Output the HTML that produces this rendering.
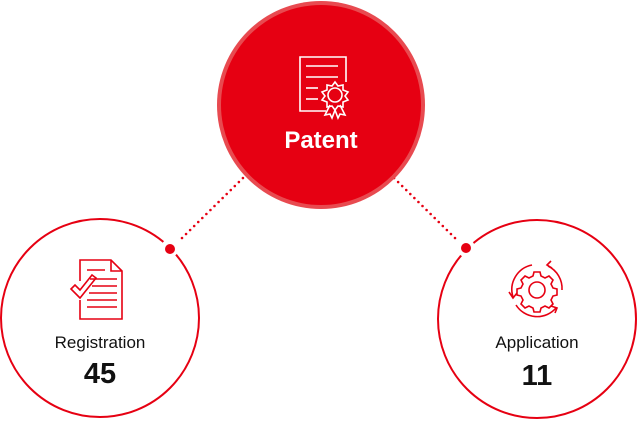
<!DOCTYPE html>
<html><head><style>
html,body{margin:0;padding:0;background:#fff;}
body{width:637px;height:419px;overflow:hidden;font-family:"Liberation Sans",sans-serif;}
</style></head><body>
<svg width="637" height="419" viewBox="0 0 637 419" xmlns="http://www.w3.org/2000/svg">
<!-- dotted connectors -->
<line x1="182" y1="238" x2="246" y2="175" stroke="#e60012" stroke-width="2.6" stroke-linecap="round" stroke-dasharray="0 5.7"/>
<line x1="455" y1="238" x2="391" y2="175" stroke="#e60012" stroke-width="2.6" stroke-linecap="round" stroke-dasharray="0 5.7"/>
<!-- small circles -->
<circle cx="100" cy="318" r="99" fill="none" stroke="#e60012" stroke-width="2"/>
<circle cx="537" cy="319" r="99" fill="none" stroke="#e60012" stroke-width="2"/>
<circle cx="170" cy="248" r="9" fill="#fff"/>
<circle cx="466" cy="248" r="9" fill="#fff"/>
<circle cx="170" cy="249" r="5" fill="#e60012"/>
<circle cx="466" cy="248" r="5" fill="#e60012"/>
<!-- big circle -->
<circle cx="321" cy="105" r="104" fill="#e84a50"/>
<circle cx="321" cy="105" r="100" fill="#e60012"/>
<!-- certificate icon -->
<g fill="none" stroke="#fff" stroke-width="1.6">
<path d="M326 111 H300 V57 H346 V82"/>
<line x1="306" y1="66" x2="338" y2="66"/><line x1="306" y1="77" x2="338" y2="77"/>
<line x1="306" y1="88" x2="318" y2="88"/><line x1="306" y1="99" x2="318" y2="99"/>
<circle cx="335" cy="95" r="7"/>
<path d="M335 82 l3 4 5 -1 0 5 5 2 -3 4 3 4 -5 2 0 5 -5 -1 -3 4 -3 -4 -5 1 0 -5 -5 -2 3 -4 -3 -4 5 -2 0 -5 5 1z"/>
<path d="M330 105 l-5 10 5 -1 2 4 3 -8 M340 105 l5 10 -5 -1 -2 4 -3 -8"/>
</g>
<text x="321" y="148" text-anchor="middle" fill="#fff" font-size="24" font-weight="bold">Patent</text>
<!-- registration icon -->
<g fill="none" stroke="#e60012" stroke-width="1.6">
<path d="M80 281 V260 H111 L122 271 V319 H80 V300"/>
<path d="M111 260 V271 H122"/>
<line x1="87" y1="270" x2="105" y2="270"/>
<line x1="90" y1="279" x2="117" y2="279"/><line x1="92" y1="286" x2="117" y2="286"/>
<line x1="89" y1="293" x2="117" y2="293"/><line x1="87" y1="300" x2="117" y2="300"/>
<line x1="87" y1="307" x2="117" y2="307"/>
<path d="M71 289 l4 -4 5 5 12 -15 4 3 -16 20z"/>
</g>
<text x="100" y="348" text-anchor="middle" fill="#111" font-size="17">Registration</text>
<text x="100" y="383" text-anchor="middle" fill="#111" font-size="29" font-weight="bold">45</text>
<!-- application gear icon -->
<g fill="none" stroke="#e60012" stroke-width="1.6">
<circle cx="537" cy="290" r="8"/>
<path d="M534 272 h6 l1 4 4 2 4 -2 4 4 -2 4 2 4 4 1 v6 l-4 1 -2 4 2 4 -4 4 -4 -2 -4 2 -1 4 h-6 l-1 -4 -4 -2 -4 2 -4 -4 2 -4 -2 -4 -4 -1 v-6 l4 -1 2 -4 -2 -4 4 -4 4 2 4 -2z"/>
<path d="M513 297 A25 25 0 0 1 532 265"/>
<path d="M548 266 A25 25 0 0 1 562 290"/>
<path d="M556 308 A25 25 0 0 1 516 305"/>
<path d="M509 292 l4 6 4 -5"/><path d="M551 261 l-4 4 5 3"/><path d="M551 306 l6 2 -2 5"/>
</g>
<text x="537" y="348" text-anchor="middle" fill="#111" font-size="17">Application</text>
<text x="537" y="385" text-anchor="middle" fill="#111" font-size="29" font-weight="bold">11</text>
</svg>
</body></html>
